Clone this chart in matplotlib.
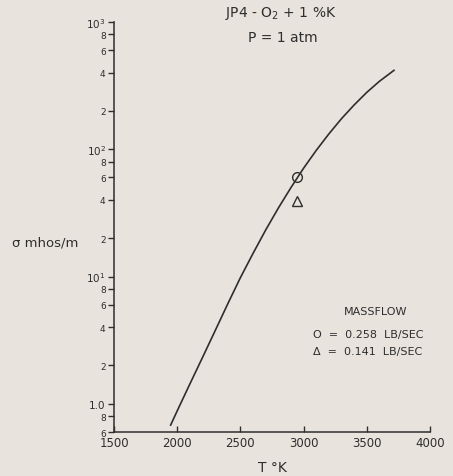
import matplotlib
matplotlib.use("Agg")
import matplotlib.pyplot as plt
from matplotlib.ticker import FixedLocator, FixedFormatter

# Data
temp_K = [1948, 2000, 2100, 2200, 2300, 2400, 2500, 2600, 2700, 2800, 2900, 3000,
          3100, 3200, 3300, 3400, 3500, 3600, 3715]
sigma = [0.68, 0.88, 1.43, 2.31, 3.75, 6.1, 9.8, 15.2, 23.2, 34.5, 50, 71,
         98, 132, 174, 223, 280, 342, 417]

circle_T = [2950]
circle_sigma = [60]
triangle_T = [2950]
triangle_sigma = [39]

x_ticks = [1500, 2000, 2500, 3000, 3500, 4000]
y_major = [1, 10, 100, 1000]
y_major_labels = ["1.0", "10$^1$", "10$^2$", "10$^3$"]
y_minor = [0.6, 0.8, 2, 4, 6, 8, 20, 40, 60, 80, 200, 400, 600, 800]
y_minor_labels = ["6", "8", "2", "4", "6", "8", "2", "4", "6", "8", "2", "4", "6", "8"]

bg = "#e8e3dc"
ink = "#2e2e2e"

fig = plt.figure(figsize=(4.53, 4.77), dpi=100, facecolor=bg)
ax = fig.add_axes([0.2517, 0.0922, 0.6975, 0.8596], facecolor=bg)

ax.plot(temp_K, sigma, color=ink, lw=1.2)
ax.plot(circle_T, circle_sigma, 'o', mfc='none', mec=ink, ms=7, mew=1.0)
ax.plot(triangle_T, triangle_sigma, '^', mfc='none', mec=ink, ms=6.5, mew=1.0)

ax.set_yscale('log')
ax.set_xlim(1500, 4000)
ax.set_ylim(0.6, 1000)

for s in ['top', 'right']:
    ax.spines[s].set_visible(False)
for s in ['left', 'bottom']:
    ax.spines[s].set_color(ink)
    ax.spines[s].set_linewidth(1.1)

ax.set_xticks(x_ticks)
ax.set_xticklabels([str(t) for t in x_ticks])
ax.tick_params(axis='x', direction='in', length=4, width=1, colors=ink, labelsize=8.5, pad=3)

ax.yaxis.set_major_locator(FixedLocator(y_major))
ax.yaxis.set_major_formatter(FixedFormatter(y_major_labels))
ax.yaxis.set_minor_locator(FixedLocator(y_minor))
ax.yaxis.set_minor_formatter(FixedFormatter(y_minor_labels))
ax.tick_params(axis='y', which='both', direction='out', length=4, width=1, colors=ink, pad=2)
ax.tick_params(axis='y', which='major', labelsize=7.5)
ax.tick_params(axis='y', which='minor', labelsize=6.5)

ax.set_xlabel("T °K", fontsize=10, color=ink, labelpad=8)
fig.text(0.026, 0.49, "σ mhos/m", fontsize=9.5, color=ink, ha='left', va='center')

fig.text(0.62, 0.972, "JP4 - O$_2$ + 1 %K", fontsize=10, color=ink, ha='center', va='center')
fig.text(0.625, 0.92, "P = 1 atm", fontsize=10, color=ink, ha='center', va='center')

fig.text(0.83, 0.345, "MASSFLOW", fontsize=8, color=ink, ha='center', va='center')
fig.text(0.69, 0.298, "O  =  0.258  LB/SEC", fontsize=8, color=ink, ha='left', va='center')
fig.text(0.69, 0.262, "Δ  =  0.141  LB/SEC", fontsize=8, color=ink, ha='left', va='center')

fig.savefig("out.png", dpi=100, facecolor=bg)
